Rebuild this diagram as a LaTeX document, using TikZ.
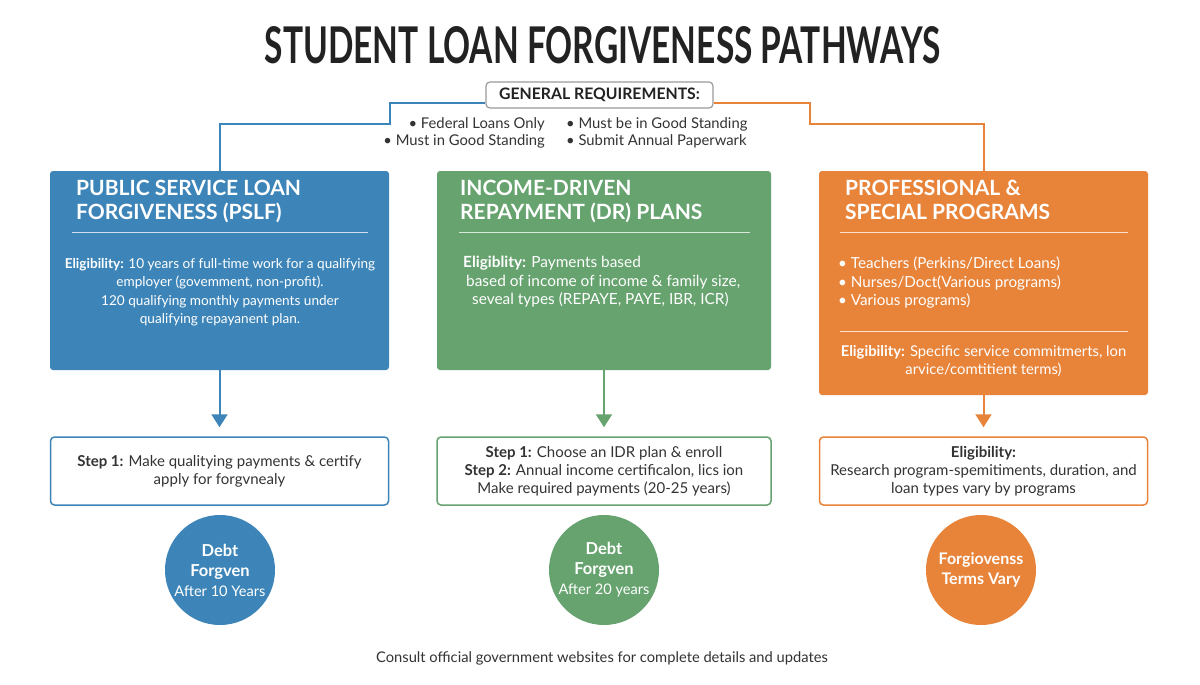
\documentclass[tikz,border=0pt]{standalone}
\usepackage{graphicx}
\usepackage{fontspec}
\setmainfont{Lato}
\usetikzlibrary{arrows.meta,calc}
\definecolor{cblue}{HTML}{3D85B8}
\definecolor{cgreen}{HTML}{66A36F}
\definecolor{corange}{HTML}{E8843A}
\definecolor{ink}{HTML}{222222}
\definecolor{bodyink}{HTML}{333333}
\definecolor{reqgray}{HTML}{9A9A9A}
\begin{document}
\begin{tikzpicture}[x=1pt,y=-1pt,
  panel/.style={rounded corners=3pt, inner sep=0pt, draw=none},
  stepbox/.style={rounded corners=4pt, fill=white, line width=1.5pt, inner sep=0pt, align=center, text=bodyink, font=\fontsize{15}{18}\selectfont},
  disc/.style={circle, inner sep=0pt, minimum size=110pt, text=white, align=center, font=\fontsize{14.6}{20}\selectfont},
  ptitle/.style={anchor=north west, inner sep=0pt, text=white, align=left, font=\bfseries\fontsize{21}{24}\selectfont},
  pbody/.style={inner sep=0pt, text=white, font=\fontsize{15.2}{18.5}\selectfont},
  conn/.style={draw=#1, line width=2pt},
  arr/.style={draw=#1, line width=2pt, -{Triangle[width=16pt,length=13pt]}, shorten >=9pt},
  sepline/.style={draw=white, draw opacity=0.75, line width=1pt},
  reqbox/.style={draw=reqgray, rounded corners=4pt, fill=white, line width=1.2pt, minimum width=227pt, minimum height=26pt, inner sep=0pt, text=ink, font=\bfseries\fontsize{15.8}{17}\selectfont},
  reqtxt/.style={inner sep=0pt, text=bodyink, font=\fontsize{14.8}{17}\selectfont}
]
\fill[white] (0,0) rectangle (1200,685);
\useasboundingbox (0,0) rectangle (1200,685);

% title
\node[anchor=base, inner sep=0pt, text=ink] (title) at (602.5,64)
  {\resizebox{675pt}{37pt}{\bfseries STUDENT LOAN FORGIVENESS PATHWAYS}};

% general requirements
\node[reqbox] (req) at (599.5,95) {GENERAL REQUIREMENTS:};
\node[reqtxt, anchor=north east, align=right] (reqL) at (545,117)
  {\textbullet\ Federal Loans Only\\\textbullet\ Must in Good Standing};
\node[reqtxt, anchor=north west, align=left] (reqR) at (566,117)
  {\textbullet\ Must be in Good Standing\\\textbullet\ Submit Annual Paperwark};

% panels
\node[panel, fill=cblue, minimum width=339pt, minimum height=199pt] (pslf) at (219.5,270.5) {};
\node[panel, fill=cgreen, minimum width=334pt, minimum height=199pt] (idr) at (604,270.5) {};
\node[panel, fill=corange, minimum width=329pt, minimum height=224pt] (prof) at (983.5,283) {};

% connectors from requirements
\coordinate (b1) at (390,103); \coordinate (b2) at (390,124); \coordinate (b3) at (219.5,124);
\draw[conn=cblue] (req.west |- b1) -- (b1) -- (b2) -- (b3) -- (pslf.north);
\coordinate (o1) at (810,103); \coordinate (o2) at (810,124); \coordinate (o3) at (983.5,124);
\draw[conn=corange] (req.east |- o1) -- (o1) -- (o2) -- (o3) -- (prof.north);

% panel titles
\node[ptitle] (t1) at (76,180) {PUBLIC SERVICE LOAN\\FORGIVENESS (PSLF)};
\node[ptitle] (t2) at (460,180) {INCOME-DRIVEN\\REPAYMENT (DR) PLANS};
\node[ptitle] (t3) at (845,180) {PROFESSIONAL \&\\SPECIAL PROGRAMS};
\draw[sepline] (72,232) -- (368,232);
\draw[sepline] (459,232) -- (750,232);
\draw[sepline] (840,232) -- (1128,232);
\draw[sepline] (840,331) -- (1128,331);

% panel bodies
\node[pbody, anchor=north, align=center, font=\fontsize{13.6}{18.5}\selectfont] (b1txt) at (220,258)
  {\textbf{Eligibility:} 10 years of full-time work for a qualifying\\
   employer (govemment, non-profit).\\
   120 qualifying monthly payments under\\
   qualifying repayanent plan.};
\node[pbody, anchor=north west, align=left, font=\fontsize{15.4}{18.5}\selectfont] (b2txt) at (463,256)
  {\textbf{Eligiblity:} Payments based\\
   \hspace*{3pt}based of income of income \& family size,\\
   \hspace*{9pt}seveal types (REPAYE, PAYE, IBR, ICR)};
\node[pbody, anchor=north west, align=left] (b3txt) at (838,257)
  {\textbullet\ Teachers (Perkins/Direct Loans)\\
   \textbullet\ Nurses/Doct(Various programs)\\
   \textbullet\ Various programs)};
\node[pbody, anchor=north, align=center, font=\fontsize{14.8}{18.5}\selectfont] (b3elig) at (983.5,345)
  {\textbf{Eligibility:} Specific service commitmerts, lon\\
   arvice/comtitient terms)};

% step boxes
\node[stepbox, draw=cblue, minimum width=338pt, minimum height=68pt] (s1) at (219.5,471)
  {\textbf{Step 1:} Make qualitying payments \& certify\\apply for forgvnealy};
\node[stepbox, draw=cgreen, minimum width=334pt, minimum height=68pt] (s2) at (604,471)
  {\textbf{Step 1:} Choose an IDR plan \& enroll\\
   \textbf{Step 2:} Annual income certificalon, lics ion\\
   Make required payments (20-25 years)};
\node[stepbox, draw=corange, minimum width=328pt, minimum height=68pt] (s3) at (983.5,471)
  {\textbf{Eligibility:}\\
   Research program-spemitiments, duration, and\\
   loan types vary by programs};

% arrows
\draw[arr=cblue] (pslf.south) -- (s1.north);
\draw[arr=cgreen] (idr.south) -- (s2.north);
\draw[arr=corange] (prof.south) -- (s3.north);

% discs
\node[disc, fill=cblue] (c1) at (220,570)
  {{\bfseries\fontsize{16.5}{20}\selectfont Debt}\\{\bfseries\fontsize{16.5}{20}\selectfont Forgven}\\After 10 Years};
\node[disc, fill=cgreen] (c2) at (604,570)
  {{\bfseries\fontsize{16.5}{20}\selectfont Debt}\\{\bfseries\fontsize{16.5}{20}\selectfont Forgven}\\After 20 years};
\node[disc, fill=corange, font=\bfseries\fontsize{16}{20}\selectfont] (c3) at (981,570)
  {Forgiovenss\\Terms Vary};

% footer
\node[inner sep=0pt, text=bodyink, font=\fontsize{14.7}{16}\selectfont, anchor=base] (foot) at (602,662)
  {Consult official government websites for complete details and updates};
\end{tikzpicture}
\end{document}
